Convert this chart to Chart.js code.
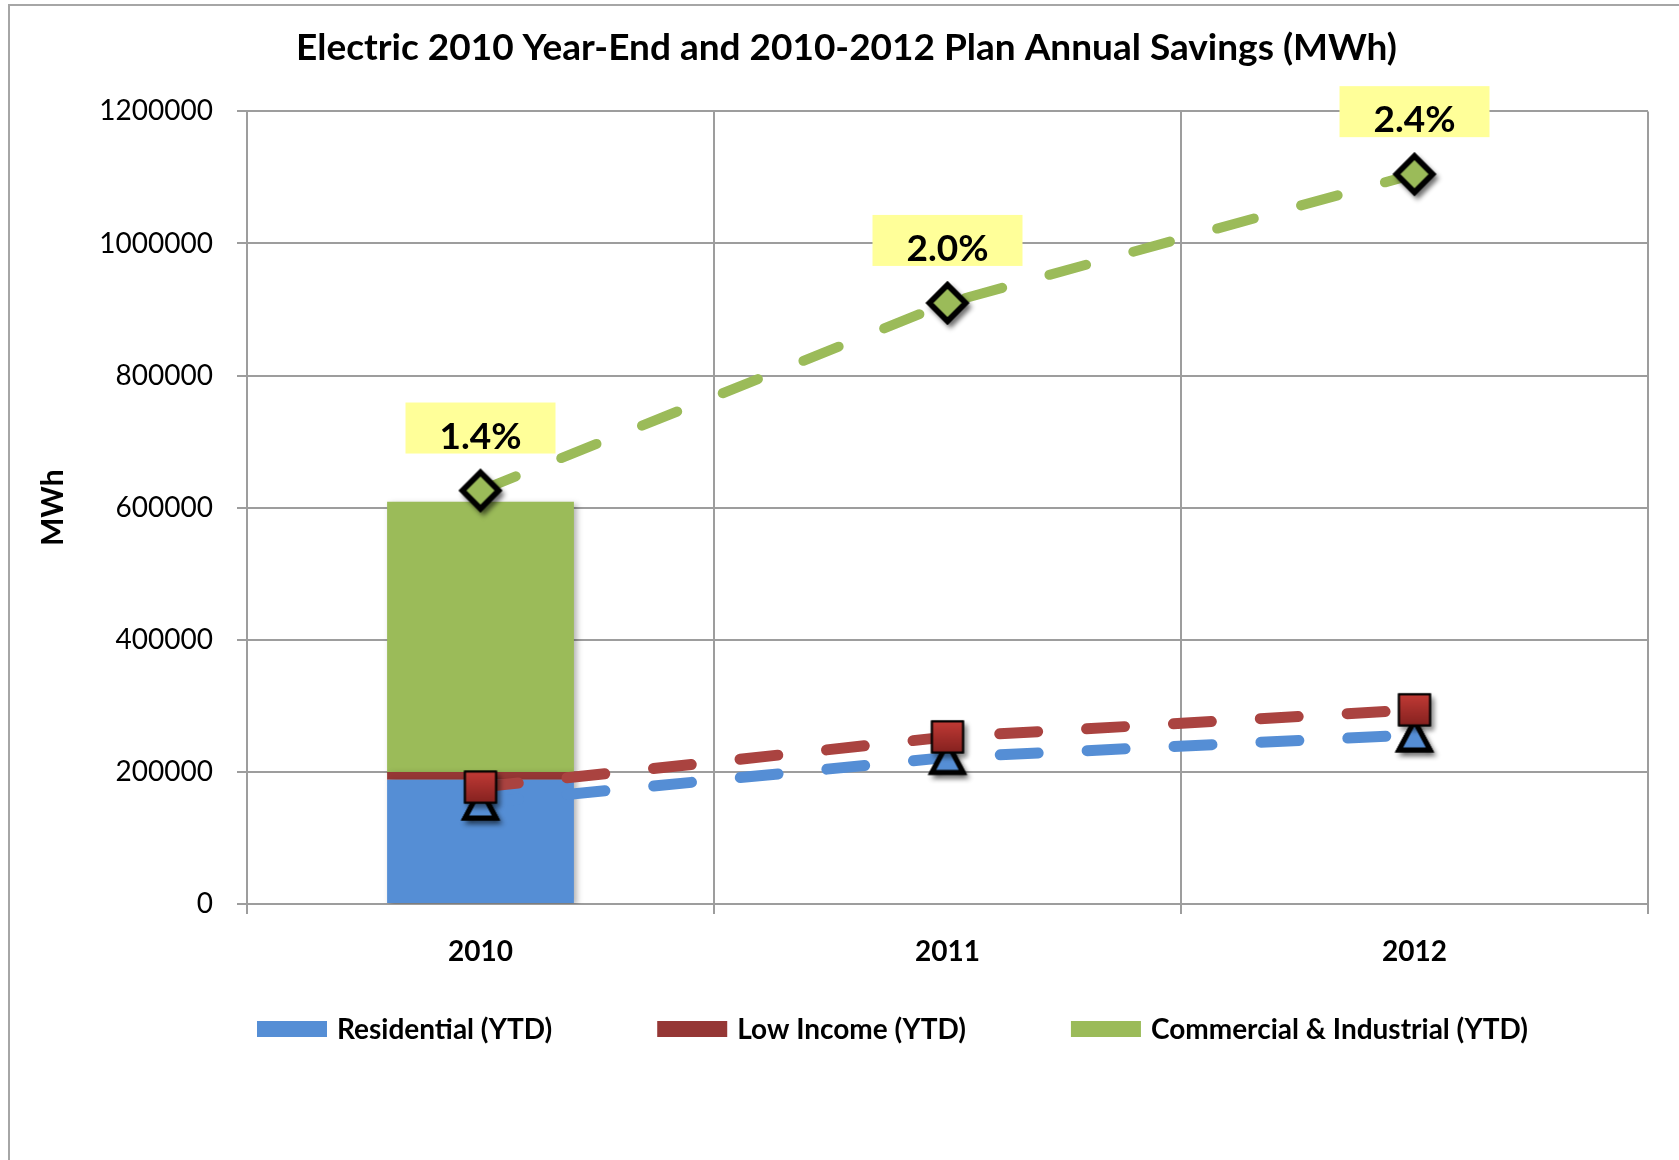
<!DOCTYPE html>
<html>
<head>
<meta charset="utf-8">
<title>Electric 2010 Year-End and 2010-2012 Plan Annual Savings</title>
<script src="https://cdn.jsdelivr.net/npm/chart.js@4.4.1/dist/chart.umd.min.js"></script>
<style>
  html, body { margin: 0; padding: 0; background: #fff; }
  #wrap { width: 1679px; height: 1160px; }
</style>
</head>
<body>
<div id="wrap"><canvas id="savingsChart" width="1679" height="1160"></canvas></div>
<script>
// categories
const years = ['2010', '2011', '2012'];

// 2010 year-end actuals (stacked bar, 2010 only)
const residentialYTD = [188000, null, null];
const lowIncomeYTD = [12000, null, null];
const commercialYTD = [409000, null, null];

// 2010-2012 plan (dashed lines)
const residentialPlan = [153000, 222000, 256000];
const lowIncomePlan = [177000, 253000, 294000];
const commercialPlan = [626000, 910000, 1105000];

// savings % labels over the C&I plan points
const savingsPct = ['1.4%', '2.0%', '2.4%'];

// y axis ticks
const yTicks = [0, 200000, 400000, 600000, 800000, 1000000, 1200000];

const FONT = 'Lato, "Open Sans", sans-serif';
const GRID = '#9d9d9d';
const BLUE = '#558ed5';
const RED = '#953735';
const GREEN = '#9bbb59';

// excel-like markers with a drop shadow, drawn once into small canvases
function makeMarker(size, drawPath, fill, stroke, lw) {
    const c = document.createElement('canvas');
    c.width = size;
    c.height = size;
    const g = c.getContext('2d');
    const m = size / 2;
    g.lineJoin = 'miter';
    // shadow pass
    g.save();
    g.shadowColor = 'rgba(0,0,0,0.45)';
    g.shadowBlur = 5;
    g.shadowOffsetX = 3;
    g.shadowOffsetY = 4;
    drawPath(g, m);
    g.fillStyle = '#000';
    g.fill();
    g.lineWidth = lw;
    g.strokeStyle = '#000';
    g.stroke();
    g.restore();
    // marker itself
    drawPath(g, m);
    g.fillStyle = typeof fill === 'function' ? fill(g, m) : fill;
    g.fill();
    g.lineWidth = lw;
    g.strokeStyle = stroke;
    g.stroke();
    return c;
}

const diamondMarker = makeMarker(62, (g, m) => {
    g.beginPath();
    g.moveTo(m, m - 18);
    g.lineTo(m + 18, m);
    g.lineTo(m, m + 18);
    g.lineTo(m - 18, m);
    g.closePath();
}, GREEN, '#000', 5.5);

const squareMarker = makeMarker(52, (g, m) => {
    g.beginPath();
    g.rect(m - 15.5, m - 15.5, 31, 31);
}, (g, m) => {
    const gr = g.createLinearGradient(0, m - 15, 0, m + 15);
    gr.addColorStop(0, '#c03a35');
    gr.addColorStop(1, '#862220');
    return gr;
}, '#000', 2);

const triangleMarker = makeMarker(58, (g, m) => {
    g.beginPath();
    g.moveTo(m, m - 14);
    g.lineTo(m + 15.5, m + 15);
    g.lineTo(m - 15.5, m + 15);
    g.closePath();
}, BLUE, '#000', 5);

// outer frame + white background
const framePlugin = {
    id: 'frame',
    beforeDraw(chart) {
        const { ctx, width, height } = chart;
        ctx.save();
        ctx.fillStyle = '#fff';
        ctx.fillRect(0, 0, width, height);
        ctx.strokeStyle = '#a6a6a6';
        ctx.lineWidth = 2;
        ctx.beginPath();
        ctx.moveTo(9, height + 5);
        ctx.lineTo(9, 5);
        ctx.lineTo(width + 5, 5);
        ctx.stroke();
        ctx.restore();
    },
    afterLayout(chart) {
        // excel centres the title a little right of the canvas middle
        chart.titleBlock.left += 21;
        chart.titleBlock.right += 21;
    }
};

// soft shadow under the bars
const barShadow = {
    id: 'barShadow',
    beforeDatasetDraw(chart, args) {
        const ctx = chart.ctx;
        ctx.save();
        if (args.meta.type === 'bar') {
            ctx.shadowColor = 'rgba(0,0,0,0.3)';
            ctx.shadowBlur = 6;
            ctx.shadowOffsetX = 3;
            ctx.shadowOffsetY = 2;
        }
    },
    afterDatasetDraw(chart) {
        chart.ctx.restore();
    }
};

// yellow % boxes above C&I plan points
const pctLabels = {
    id: 'pctLabels',
    afterDatasetsDraw(chart) {
        const meta = chart.getDatasetMeta(0);
        const ctx = chart.ctx;
        ctx.save();
        ctx.font = 'bold 37px ' + FONT;
        ctx.textAlign = 'center';
        ctx.textBaseline = 'alphabetic';
        meta.data.forEach((pt, i) => {
            const bottom = pt.y - 37;
            ctx.fillStyle = '#ffff99';
            ctx.fillRect(pt.x - 75, bottom - 51, 150, 51);
            ctx.fillStyle = '#000';
            ctx.fillText(savingsPct[i], pt.x, bottom - 5);
        });
        ctx.restore();
    }
};

// legend for the bar series only
const barLegend = {
    id: 'barLegend',
    afterDraw(chart) {
        const { ctx, chartArea } = chart;
        const y = chartArea.bottom + 125;
        let x = chartArea.left + 10;
        ctx.save();
        ctx.font = 'bold 28px ' + FONT;
        ctx.textBaseline = 'middle';
        chart.data.datasets.filter(d => d.type === 'bar').forEach(d => {
            ctx.fillStyle = d.backgroundColor;
            ctx.fillRect(x, y - 8, 70, 16);
            x += 80;
            ctx.fillStyle = '#000';
            ctx.fillText(d.label, x, y + 1);
            x += ctx.measureText(d.label).width + 105;
        });
        ctx.restore();
    }
};

const lineBase = {
    type: 'line',
    borderWidth: 11,
    borderDash: [38, 49],
    borderCapStyle: 'round',
    pointRadius: 20,
    tension: 0
};

new Chart(document.getElementById('savingsChart'), {
    type: 'bar',
    data: {
        labels: years,
        datasets: [
            {
                ...lineBase,
                label: 'Commercial & Industrial (Plan)',
                data: commercialPlan,
                stack: 'ciPlan',
                borderColor: GREEN,
                borderWidth: 10,
                pointStyle: diamondMarker,
                order: 1
            },
            {
                ...lineBase,
                label: 'Low Income (Plan)',
                data: lowIncomePlan,
                stack: 'liPlan',
                borderColor: '#aa4340',
                pointStyle: squareMarker,
                order: 2
            },
            {
                ...lineBase,
                label: 'Residential (Plan)',
                data: residentialPlan,
                stack: 'resPlan',
                borderColor: BLUE,
                pointStyle: triangleMarker,
                order: 3
            },
            { type: 'bar', label: 'Residential (YTD)', data: residentialYTD, backgroundColor: BLUE, stack: 'ytd', order: 10 },
            { type: 'bar', label: 'Low Income (YTD)', data: lowIncomeYTD, backgroundColor: RED, stack: 'ytd', order: 10 },
            { type: 'bar', label: 'Commercial & Industrial (YTD)', data: commercialYTD, backgroundColor: GREEN, stack: 'ytd', order: 10 }
        ]
    },
    options: {
        responsive: false,
        animation: false,
        devicePixelRatio: 1,
        layout: { padding: { left: 0, right: 28, top: 0, bottom: 191 } },
        datasets: { bar: { barPercentage: 0.4, categoryPercentage: 1 } },
        scales: {
            x: {
                stacked: true,
                offset: true,
                grid: { offset: true, color: GRID, lineWidth: 2, tickLength: 10 },
                border: { color: GRID, width: 2 },
                ticks: { font: { family: FONT, size: 28, weight: 'bold' }, color: '#000', padding: 21 },
                afterFit: s => { s.height = 65; }
            },
            y: {
                stacked: true,
                min: 0,
                max: 1200000,
                afterBuildTicks: s => { s.ticks = yTicks.map(v => ({ value: v })); },
                grid: { color: GRID, lineWidth: 2, tickLength: 10 },
                border: { color: GRID, width: 2 },
                ticks: { font: { family: FONT, size: 28 }, color: '#000', padding: 24, callback: v => String(v) },
                title: {
                    display: true,
                    text: 'MWh',
                    font: { family: FONT, size: 30, weight: 'bold' },
                    color: '#000',
                    padding: { top: 35, bottom: 0 }
                },
                afterFit: s => { s.width = 247; }
            }
        },
        plugins: {
            title: {
                display: true,
                text: 'Electric 2010 Year-End and 2010-2012 Plan Annual Savings (MWh)',
                font: { family: FONT, size: 37, weight: 'bold' },
                color: '#000',
                padding: { top: 26, bottom: 41 }
            },
            legend: { display: false },
            tooltip: { enabled: false }
        }
    },
    plugins: [framePlugin, barShadow, pctLabels, barLegend]
});
</script>
</body>
</html>
